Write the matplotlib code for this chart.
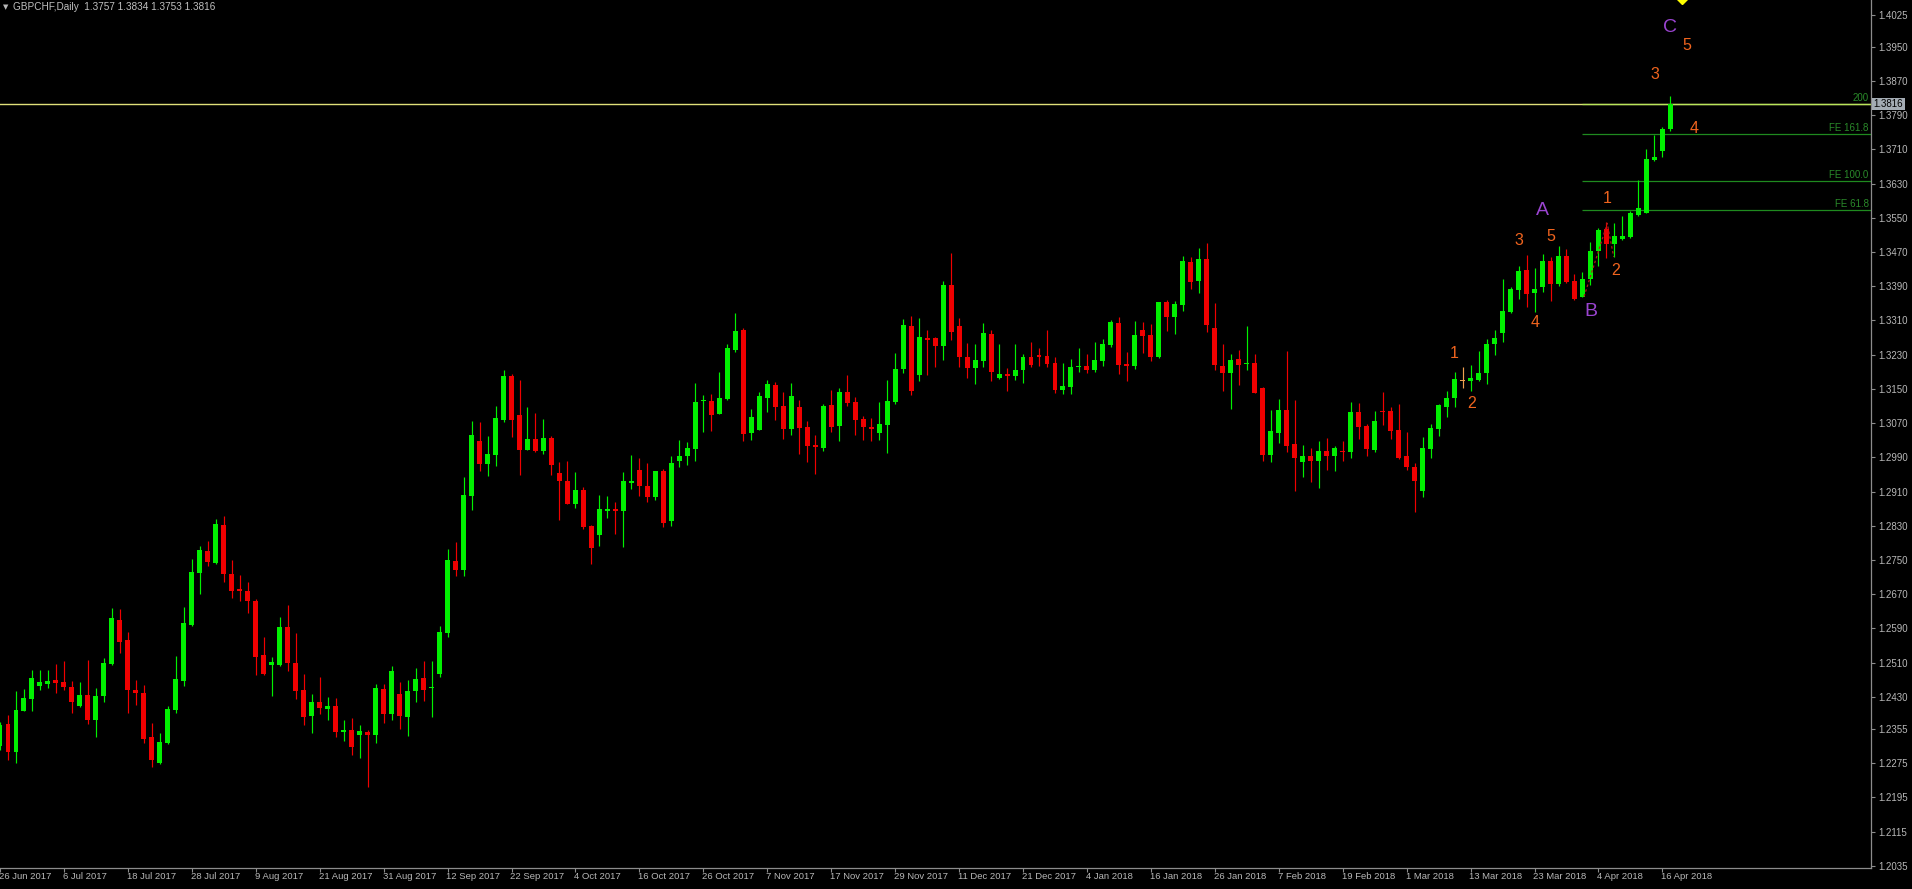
import matplotlib
matplotlib.use("Agg")
import matplotlib.pyplot as plt
import numpy as np
from matplotlib.transforms import blended_transform_factory

plt.rcParams['font.family'] = ['Liberation Sans', 'DejaVu Sans']

symbol_title = "GBPCHF,Daily  1.3757 1.3834 1.3753 1.3816"

opens = [1.2314, 1.2367, 1.2302, 1.2397, 1.2425, 1.2456, 1.2461, 1.2470, 1.2465, 1.2453,
         1.2409, 1.2435, 1.2375, 1.2431, 1.2507, 1.2610, 1.2563, 1.2446, 1.2440, 1.2335,
         1.2276, 1.2321, 1.2399, 1.2467, 1.2597, 1.2720, 1.2772, 1.2744, 1.2832, 1.2717,
         1.2682, 1.2678, 1.2654, 1.2528, 1.2505, 1.2505, 1.2593, 1.2509, 1.2446, 1.2386,
         1.2417, 1.2401, 1.2409, 1.2349, 1.2353, 1.2340, 1.2349, 1.2340, 1.2448, 1.2390,
         1.2437, 1.2384, 1.2444, 1.2474, 1.2450, 1.2484, 1.2580, 1.2748, 1.2727, 1.2900,
         1.3028, 1.2974, 1.2996, 1.3077, 1.3179, 1.3089, 1.3007, 1.3033, 1.3005, 1.3036,
         1.2954, 1.2935, 1.2881, 1.2914, 1.2830, 1.2809, 1.2865, 1.2869, 1.2865, 1.2931,
         1.2960, 1.2923, 1.2898, 1.2957, 1.2840, 1.2982, 1.2994, 1.3010, 1.3121, 1.3122,
         1.3091, 1.3126, 1.3241, 1.3288, 1.3048, 1.3054, 1.3129, 1.3159, 1.3110, 1.3057,
         1.3108, 1.3062, 1.3019, 1.3012, 1.3112, 1.3064, 1.3143, 1.3119, 1.3080, 1.3060,
         1.3048, 1.3066, 1.3119, 1.3197, 1.3297, 1.3183, 1.3269, 1.3268, 1.3250, 1.3393,
         1.3297, 1.3225, 1.3199, 1.3216, 1.3278, 1.3176, 1.3185, 1.3179, 1.3194, 1.3225,
         1.3229, 1.3227, 1.3211, 1.3147, 1.3155, 1.3200, 1.3204, 1.3194, 1.3216, 1.3253,
         1.3305, 1.3208, 1.3204, 1.3288, 1.3276, 1.3225, 1.3352, 1.3317, 1.3346, 1.3447,
         1.3402, 1.3454, 1.3293, 1.3204, 1.3188, 1.3220, 1.3207, 1.3211, 1.3153, 1.2996,
         1.3048, 1.3101, 1.3021, 1.2980, 1.2992, 1.2982, 1.3005, 1.2994, 1.3005, 1.3003,
         1.3095, 1.3063, 1.3007, 1.3098, 1.3098, 1.3054, 1.2993, 1.2968, 1.2912, 1.3010,
         1.3056, 1.3108, 1.3128, 1.3169, 1.3169, 1.3171, 1.3188, 1.3254, 1.3280, 1.3329,
         1.3381, 1.3428, 1.3375, 1.3389, 1.3448, 1.3395, 1.3461, 1.3402, 1.3364, 1.3406,
         1.3473, 1.3523, 1.3489, 1.3500, 1.3504, 1.3557, 1.3562, 1.3684, 1.3706, 1.3757]

highs = [1.2372, 1.2388, 1.2444, 1.2449, 1.2493, 1.2493, 1.2493, 1.2507, 1.2514, 1.2467,
         1.2465, 1.2516, 1.2450, 1.2520, 1.2638, 1.2635, 1.2581, 1.2470, 1.2458, 1.2368,
         1.2345, 1.2409, 1.2526, 1.2639, 1.2752, 1.2783, 1.2794, 1.2846, 1.2853, 1.2750,
         1.2715, 1.2699, 1.2659, 1.2570, 1.2523, 1.2617, 1.2645, 1.2579, 1.2484, 1.2436,
         1.2477, 1.2429, 1.2427, 1.2376, 1.2380, 1.2365, 1.2353, 1.2460, 1.2460, 1.2502,
         1.2464, 1.2470, 1.2497, 1.2514, 1.2514, 1.2596, 1.2776, 1.2791, 1.2945, 1.3075,
         1.3073, 1.3040, 1.3111, 1.3194, 1.3185, 1.3171, 1.3108, 1.3094, 1.3080, 1.3040,
         1.2979, 1.2982, 1.2956, 1.2920, 1.2832, 1.2902, 1.2900, 1.2886, 1.2956, 1.2996,
         1.2988, 1.2976, 1.2958, 1.2963, 1.2993, 1.3031, 1.3025, 1.3163, 1.3135, 1.3137,
         1.3189, 1.3256, 1.3327, 1.3292, 1.3103, 1.3142, 1.3171, 1.3165, 1.3143, 1.3163,
         1.3124, 1.3075, 1.3041, 1.3115, 1.3147, 1.3151, 1.3182, 1.3130, 1.3087, 1.3083,
         1.3119, 1.3171, 1.3233, 1.3313, 1.3320, 1.3315, 1.3288, 1.3272, 1.3403, 1.3467,
         1.3315, 1.3257, 1.3255, 1.3303, 1.3288, 1.3255, 1.3198, 1.3255, 1.3231, 1.3259,
         1.3245, 1.3288, 1.3224, 1.3210, 1.3220, 1.3246, 1.3232, 1.3259, 1.3267, 1.3311,
         1.3317, 1.3236, 1.3309, 1.3307, 1.3302, 1.3354, 1.3358, 1.3356, 1.3461, 1.3458,
         1.3480, 1.3492, 1.3350, 1.3255, 1.3232, 1.3241, 1.3297, 1.3232, 1.3155, 1.3101,
         1.3127, 1.3239, 1.3124, 1.3019, 1.3011, 1.3028, 1.3035, 1.3017, 1.3027, 1.3119,
         1.3118, 1.3068, 1.3098, 1.3142, 1.3107, 1.3115, 1.3049, 1.2976, 1.3037, 1.3068,
         1.3114, 1.3144, 1.3189, 1.3202, 1.3206, 1.3239, 1.3267, 1.3288, 1.3406, 1.3389,
         1.3438, 1.3463, 1.3432, 1.3465, 1.3459, 1.3483, 1.3476, 1.3419, 1.3424, 1.3493,
         1.3527, 1.3539, 1.3537, 1.3553, 1.3566, 1.3638, 1.3711, 1.3744, 1.3763, 1.3834]

lows = [1.2306, 1.2283, 1.2276, 1.2396, 1.2396, 1.2445, 1.2450, 1.2438, 1.2445, 1.2393,
        1.2406, 1.2366, 1.2337, 1.2417, 1.2504, 1.2533, 1.2393, 1.2410, 1.2322, 1.2267,
        1.2273, 1.2319, 1.2393, 1.2456, 1.2596, 1.2671, 1.2736, 1.2741, 1.2699, 1.2662,
        1.2653, 1.2627, 1.2480, 1.2480, 1.2433, 1.2503, 1.2491, 1.2426, 1.2364, 1.2345,
        1.2390, 1.2375, 1.2337, 1.2326, 1.2294, 1.2288, 1.2220, 1.2323, 1.2368, 1.2376,
        1.2355, 1.2339, 1.2419, 1.2421, 1.2384, 1.2476, 1.2569, 1.2713, 1.2713, 1.2867,
        1.2957, 1.2946, 1.2970, 1.3073, 1.3038, 1.2949, 1.3006, 1.3003, 1.2998, 1.2949,
        1.2844, 1.2881, 1.2872, 1.2823, 1.2741, 1.2783, 1.2849, 1.2810, 1.2781, 1.2917,
        1.2900, 1.2886, 1.2890, 1.2826, 1.2830, 1.2968, 1.2972, 1.2981, 1.3050, 1.3052,
        1.3091, 1.3124, 1.3236, 1.3027, 1.3031, 1.3054, 1.3096, 1.3077, 1.3033, 1.3042,
        1.2998, 1.2979, 1.2951, 1.3005, 1.3050, 1.3029, 1.3110, 1.3041, 1.3031, 1.3028,
        1.3031, 1.2999, 1.3115, 1.3188, 1.3136, 1.3169, 1.3183, 1.3202, 1.3218, 1.3264,
        1.3202, 1.3176, 1.3162, 1.3200, 1.3168, 1.3174, 1.3146, 1.3171, 1.3163, 1.3200,
        1.3203, 1.3202, 1.3140, 1.3138, 1.3138, 1.3190, 1.3188, 1.3190, 1.3204, 1.3247,
        1.3185, 1.3169, 1.3196, 1.3233, 1.3216, 1.3223, 1.3285, 1.3278, 1.3331, 1.3384,
        1.3375, 1.3284, 1.3194, 1.3144, 1.3103, 1.3158, 1.3194, 1.3141, 1.2982, 1.2978,
        1.3024, 1.3003, 1.2912, 1.2943, 1.2933, 1.2919, 1.2961, 1.2959, 1.2982, 1.2989,
        1.3032, 1.2992, 1.3003, 1.3066, 1.3033, 1.2985, 1.2960, 1.2861, 1.2897, 1.2989,
        1.3040, 1.3085, 1.3108, 1.3151, 1.3146, 1.3169, 1.3162, 1.3229, 1.3260, 1.3327,
        1.3360, 1.3341, 1.3329, 1.3377, 1.3356, 1.3391, 1.3398, 1.3358, 1.3364, 1.3393,
        1.3438, 1.3457, 1.3458, 1.3497, 1.3502, 1.3555, 1.3561, 1.3683, 1.3691, 1.3753]

closes = [1.2364, 1.2302, 1.2399, 1.2427, 1.2473, 1.2465, 1.2467, 1.2463, 1.2452, 1.2419,
          1.2435, 1.2376, 1.2432, 1.2510, 1.2615, 1.2558, 1.2446, 1.2438, 1.2332, 1.2283,
          1.2325, 1.2402, 1.2472, 1.2602, 1.2722, 1.2773, 1.2745, 1.2834, 1.2718, 1.2678,
          1.2678, 1.2653, 1.2524, 1.2484, 1.2512, 1.2593, 1.2510, 1.2444, 1.2384, 1.2418,
          1.2403, 1.2409, 1.2349, 1.2353, 1.2312, 1.2350, 1.2340, 1.2450, 1.2390, 1.2491,
          1.2386, 1.2444, 1.2472, 1.2446, 1.2452, 1.2582, 1.2750, 1.2727, 1.2902, 1.3042,
          1.2974, 1.2998, 1.3081, 1.3179, 1.3077, 1.3007, 1.3033, 1.3005, 1.3036, 1.2972,
          1.2935, 1.2881, 1.2914, 1.2826, 1.2779, 1.2869, 1.2869, 1.2865, 1.2935, 1.2935,
          1.2922, 1.2898, 1.2958, 1.2837, 1.2976, 1.2993, 1.3011, 1.3119, 1.3125, 1.3090,
          1.3129, 1.3245, 1.3285, 1.3045, 1.3084, 1.3133, 1.3161, 1.3108, 1.3057, 1.3133,
          1.3059, 1.3017, 1.3013, 1.3110, 1.3061, 1.3143, 1.3116, 1.3077, 1.3062, 1.3056,
          1.3068, 1.3122, 1.3197, 1.3299, 1.3145, 1.3271, 1.3264, 1.3250, 1.3393, 1.3284,
          1.3225, 1.3199, 1.3218, 1.3280, 1.3190, 1.3184, 1.3179, 1.3194, 1.3225, 1.3206,
          1.3225, 1.3208, 1.3147, 1.3157, 1.3200, 1.3201, 1.3194, 1.3218, 1.3255, 1.3307,
          1.3206, 1.3204, 1.3276, 1.3274, 1.3225, 1.3354, 1.3317, 1.3349, 1.3449, 1.3401,
          1.3454, 1.3299, 1.3206, 1.3188, 1.3218, 1.3206, 1.3210, 1.3141, 1.2996, 1.3052,
          1.3101, 1.3017, 1.2989, 1.2993, 1.2982, 1.3005, 1.2994, 1.3011, 1.3002, 1.3095,
          1.3062, 1.3010, 1.3074, 1.3095, 1.3052, 1.2988, 1.2967, 1.2935, 1.3011, 1.3058,
          1.3112, 1.3128, 1.3173, 1.3169, 1.3176, 1.3186, 1.3254, 1.3268, 1.3332, 1.3383,
          1.3426, 1.3372, 1.3383, 1.3449, 1.3395, 1.3461, 1.3401, 1.3360, 1.3407, 1.3473,
          1.3522, 1.3488, 1.3508, 1.3508, 1.3561, 1.3572, 1.3687, 1.3691, 1.3758, 1.3816]

date_labels = ["26 Jun 2017", "6 Jul 2017", "18 Jul 2017", "28 Jul 2017", "9 Aug 2017",
               "21 Aug 2017", "31 Aug 2017", "12 Sep 2017", "22 Sep 2017", "4 Oct 2017",
               "16 Oct 2017", "26 Oct 2017", "7 Nov 2017", "17 Nov 2017", "29 Nov 2017",
               "11 Dec 2017", "21 Dec 2017", "4 Jan 2018", "16 Jan 2018", "26 Jan 2018",
               "7 Feb 2018", "19 Feb 2018", "1 Mar 2018", "13 Mar 2018", "23 Mar 2018",
               "4 Apr 2018", "16 Apr 2018"]
date_label_bars = list(range(0, 209, 8))

price_tick_labels = ["1.4025", "1.3950", "1.3870", "1.3790", "1.3710", "1.3630", "1.3550",
                     "1.3470", "1.3390", "1.3310", "1.3230", "1.3150", "1.3070", "1.2990",
                     "1.2910", "1.2830", "1.2750", "1.2670", "1.2590", "1.2510", "1.2430",
                     "1.2355", "1.2275", "1.2195", "1.2115", "1.2035"]

fibo_names = ["FE 61.8", "FE 100.0", "FE 161.8", "200"]
fibo_prices = [1.3567, 1.3636, 1.3746, 1.3815]
fibo_start_bar = 198
hline_price = 1.3815
bid_price = 1.3816

wave_texts = ["1", "2", "3", "4", "5", "A", "B", "1", "2", "3", "4", "5", "C"]
wave_bars = [181.9, 184.1, 190.1, 192.1, 194.1, 193.0, 199.0, 201.1, 202.1, 207.1, 212.0, 211.1, 209.0]
wave_prices = [1.3232, 1.3115, 1.3496, 1.3304, 1.3507, 1.3568, 1.3330, 1.3594, 1.3426,
               1.3886, 1.3758, 1.3952, 1.3994]

zigzag_bars = [198.2, 201.1, 201.9]
zigzag_prices = [1.3366, 1.3537, 1.3459]

marker_bar = 210.5
marker_price = 1.4061

# ---------------------------------------------------------------
W, H = 1912, 889
fig = plt.figure(figsize=(W / 100, H / 100), dpi=100, facecolor='black')
ax = fig.add_axes([0, 21 / H, 1871 / W, 868 / H])
ax.set_facecolor('black')

o = np.array(opens); h = np.array(highs); l = np.array(lows); c = np.array(closes)
x = np.arange(len(o))
up_col, dn_col, doji_col = '#00f000', '#f00000', '#f0a050'
cols = [up_col if cc > oo else (dn_col if cc < oo else doji_col) for oo, cc in zip(o, c)]

ax.vlines(x, l, h, colors=cols, linewidth=0.85, zorder=3)
body_bottom = np.minimum(o, c)
body_h = np.maximum(np.abs(c - o), 0.00024)
ax.bar(x, body_h, bottom=body_bottom, width=0.62, color=cols, linewidth=0, zorder=4)

xmin, xmax = 0.225, 234.1
ax.set_xlim(xmin, xmax)
ax.set_ylim(1.20299, 1.40591)

# horizontal line and fibo expansion
ax.axhline(hline_price, color='#e0e07a', linewidth=1.0, zorder=2)
for name, p in zip(fibo_names, fibo_prices):
    lc = '#b8e65a' if name == '200' else '#1f8a1f'
    ax.hlines(p, fibo_start_bar, xmax, colors=lc, linewidth=0.9, zorder=2)
    ax.text(233.8, p + 0.0003, name, ha='right', va='bottom', color='#2a8a2a',
            fontsize=7, zorder=5)

ax.plot(zigzag_bars, zigzag_prices, color='#b01818', linestyle=(0, (2, 2)), linewidth=0.9, zorder=5)

for t, bx, py in zip(wave_texts, wave_bars, wave_prices):
    if t.isalpha():
        ax.text(bx, py, t, color='#9a44d0', fontsize=14, ha='center', va='center', zorder=6)
    else:
        ax.text(bx, py, t, color='#f0641e', fontsize=11.5, ha='center', va='center', zorder=6)

ax.plot([marker_bar], [marker_price], marker='D', ms=5, color='#ffff00', zorder=6)

# axes styling
for s in ['left', 'top']:
    ax.spines[s].set_visible(False)
for s in ['right', 'bottom']:
    ax.spines[s].set_color('#8c8c8c')
    ax.spines[s].set_linewidth(0.9)

ax.yaxis.tick_right()
ax.set_yticks([float(v) for v in price_tick_labels])
ax.set_yticklabels(price_tick_labels)
ax.tick_params(axis='y', colors='#8c8c8c', labelcolor='#b8b8b8', length=3, width=0.8,
               pad=2, labelsize=7)

ax.set_xticks(date_label_bars)
ax.set_xticklabels([])
ax.tick_params(axis='x', colors='#8c8c8c', length=3, width=0.8, direction='out')
trans = blended_transform_factory(ax.transData, ax.transAxes)
for b, lab in zip(date_label_bars, date_labels):
    ax.annotate(lab, xy=(b, 0), xycoords=trans, xytext=(-0.8, -3), textcoords='offset points',
                ha='left', va='top', color='#b8b8b8', fontsize=6.8, annotation_clip=False)

# bid price label on the axis
btrans = blended_transform_factory(ax.transAxes, ax.transData)
ax.text(1.0015, bid_price, f"{bid_price:.4f}", transform=btrans, ha='left', va='center',
        color='#000000', fontsize=7, clip_on=False, zorder=10,
        bbox=dict(boxstyle='square,pad=0.15', fc='#a4acb4', ec='none'))

# title
fig.text(3 / W, 1 - 7 / H, "\u25BC", color='#b8b8b8', fontsize=5, ha='left', va='center',
         family=['DejaVu Sans'])
fig.text(13 / W, 1 - 7 / H, symbol_title, color='#c0c0c0', fontsize=7.2, ha='left', va='center')

fig.savefig('out.png', dpi=100, facecolor='black')
